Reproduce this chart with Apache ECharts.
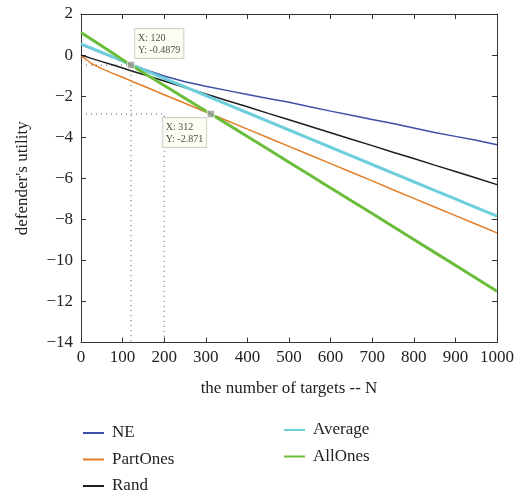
<!DOCTYPE html>
<html>
<head>
<meta charset="utf-8">
<script src="https://cdn.jsdelivr.net/npm/echarts@6/dist/echarts.min.js"></script>
<style>
  html, body { margin: 0; padding: 0; background: #fff; }
  #chart { width: 519px; height: 500px; }
</style>
</head>
<body>
<div id="chart"></div>
<script>
// Number of targets N at which each strategy was evaluated
const targets = [0, 25, 50, 75, 100, 120, 150, 200, 250, 300, 312, 350, 400, 450, 500,
                 550, 600, 650, 700, 750, 800, 850, 900, 950, 1000];

// Defender's utility per strategy
const neUtility = [0.50, 0.30, 0.10, -0.10, -0.30, -0.45, -0.68, -1.02, -1.30, -1.52, -1.57, -1.72, -1.92,
                   -2.12, -2.30, -2.52, -2.73, -2.93, -3.14, -3.33, -3.55, -3.77, -3.96, -4.15, -4.37];
const partOnesUtility = [-0.03, -0.41, -0.66, -0.88, -1.08, -1.26, -1.51, -1.93, -2.35, -2.77, -2.871, -3.19, -3.61,
                         -4.03, -4.45, -4.87, -5.29, -5.71, -6.13, -6.56, -6.98, -7.40, -7.82, -8.24, -8.66];
const randUtility = [0, -0.16, -0.32, -0.47, -0.63, -0.76, -0.95, -1.26, -1.58, -1.89, -1.97, -2.21, -2.52,
                     -2.84, -3.15, -3.47, -3.78, -4.10, -4.41, -4.73, -5.04, -5.36, -5.67, -5.99, -6.31];
const averageUtility = [0.55, 0.34, 0.13, -0.08, -0.29, -0.47, -0.71, -1.13, -1.55, -1.97, -2.07, -2.39, -2.81,
                        -3.23, -3.65, -4.07, -4.49, -4.91, -5.33, -5.75, -6.17, -6.59, -7.01, -7.43, -7.85];
const allOnesUtility = [1.10, 0.77, 0.44, 0.11, -0.23, -0.4879, -0.86, -1.48, -2.10, -2.72, -2.871, -3.34, -3.97,
                        -4.59, -5.22, -5.84, -6.47, -7.10, -7.72, -8.35, -8.98, -9.61, -10.24, -10.87, -11.50];

// Data tips
const tipX = [120, 312];
const tipY = [-0.4879, -2.871];

// Dotted guide polylines
const guideA = [[0, -0.4879], [120, -0.4879], [120, -14]];
const guideB = [[0, -2.871], [200, -2.871], [200, -14]];

const FONT = '"Liberation Serif", "DejaVu Serif", serif';
const pairs = ys => targets.map((x, i) => [x, ys[i]]);
const fmtMinus = v => (v < 0 ? '\u2212' + Math.abs(v) : String(v));

const axisLine = { show: true, onZero: false, lineStyle: { color: '#333', width: 1 } };
const tickIn = { show: true, inside: true, length: 5, lineStyle: { color: '#333' } };

const chart = echarts.init(document.getElementById('chart'), null, { renderer: 'canvas' });

function lineSeries(name, ys, color, width) {
  return {
    name, type: 'line', data: pairs(ys), showSymbol: false, symbol: 'none',
    smooth: false, lineStyle: { color, width }, itemStyle: { color },
    emphasis: { disabled: true }, animation: false
  };
}

function guideSeries(pts) {
  return {
    type: 'line', data: pts, showSymbol: false, symbol: 'none', silent: true,
    lineStyle: { color: '#555', width: 1, type: [1, 4] }, animation: false, z: 1
  };
}

const legendCommon = {
  orient: 'vertical', icon: 'rect', itemWidth: 21, itemHeight: 2, padding: 0,
  height: 90,
  textStyle: { fontFamily: FONT, fontSize: 17, lineHeight: 18, color: '#222', padding: [0, 0, 0, 3] },
  selectedMode: false
};

chart.setOption({
  animation: false,
  backgroundColor: '#fff',
  grid: { left: 81, right: 22, top: 14, bottom: 157.5, containLabel: false },
  legend: [
    Object.assign({ left: 83, top: 424, itemGap: 8.5, data: ['NE', 'PartOnes', 'Rand'] }, legendCommon),
    Object.assign({ left: 284, top: 421, itemGap: 8.5, data: ['Average', 'AllOnes'] }, legendCommon)
  ],
  xAxis: [
    {
      type: 'value', min: 0, max: 1000, interval: 100, position: 'bottom',
      name: 'the number of targets -- N', nameLocation: 'middle', nameGap: 38,
      nameTextStyle: { fontFamily: FONT, fontSize: 17, color: '#222' },
      axisLine, axisTick: tickIn, splitLine: { show: false },
      axisLabel: { fontFamily: FONT, fontSize: 17, color: '#222', margin: 7, formatter: v => String(v) }
    },
    {
      type: 'value', min: 0, max: 1000, interval: 100, position: 'top',
      axisLine, axisTick: tickIn, splitLine: { show: false }, axisLabel: { show: false }
    }
  ],
  yAxis: [
    {
      type: 'value', min: -14, max: 2, interval: 2, position: 'left',
      name: "defender's utility", nameLocation: 'middle', nameGap: 50, nameRotate: 90,
      nameTextStyle: { fontFamily: FONT, fontSize: 17, color: '#222' },
      axisLine, axisTick: tickIn, splitLine: { show: false },
      axisLabel: { fontFamily: FONT, fontSize: 17, color: '#222', margin: 8, formatter: fmtMinus }
    },
    {
      type: 'value', min: -14, max: 2, interval: 2, position: 'right',
      axisLine, axisTick: tickIn, splitLine: { show: false }, axisLabel: { show: false }
    }
  ],
  series: [
    guideSeries(guideA),
    guideSeries(guideB),
    lineSeries('NE', neUtility, '#3d4fa6', 1.5),
    lineSeries('PartOnes', partOnesUtility, '#e37d26', 1.5),
    lineSeries('Rand', randUtility, '#1e1e1e', 1.5),
    lineSeries('Average', averageUtility, '#6dcfdc', 3),
    lineSeries('AllOnes', allOnesUtility, '#6abd3a', 3),
    {
      type: 'scatter', silent: true, animation: false, z: 10,
      symbol: 'rect', symbolSize: 7,
      itemStyle: { color: '#9a9a9a', borderColor: '#f4f4f4', borderWidth: 1 },
      data: tipX.map((x, i) => ({
        value: [x, tipY[i]],
        label: {
          show: true,
          position: i === 0 ? [8, -32] : [-44, 8],
          formatter: 'X: ' + x + '\nY: ' + tipY[i],
          fontFamily: FONT, fontSize: 10, lineHeight: 12, color: '#222',
          backgroundColor: '#fdfdf1', borderColor: '#c8c8c0', borderWidth: 1,
          padding: [3, 3, 2, 3], align: 'left', verticalAlign: 'top'
        }
      }))
    }
  ]
});
</script>
</body>
</html>
